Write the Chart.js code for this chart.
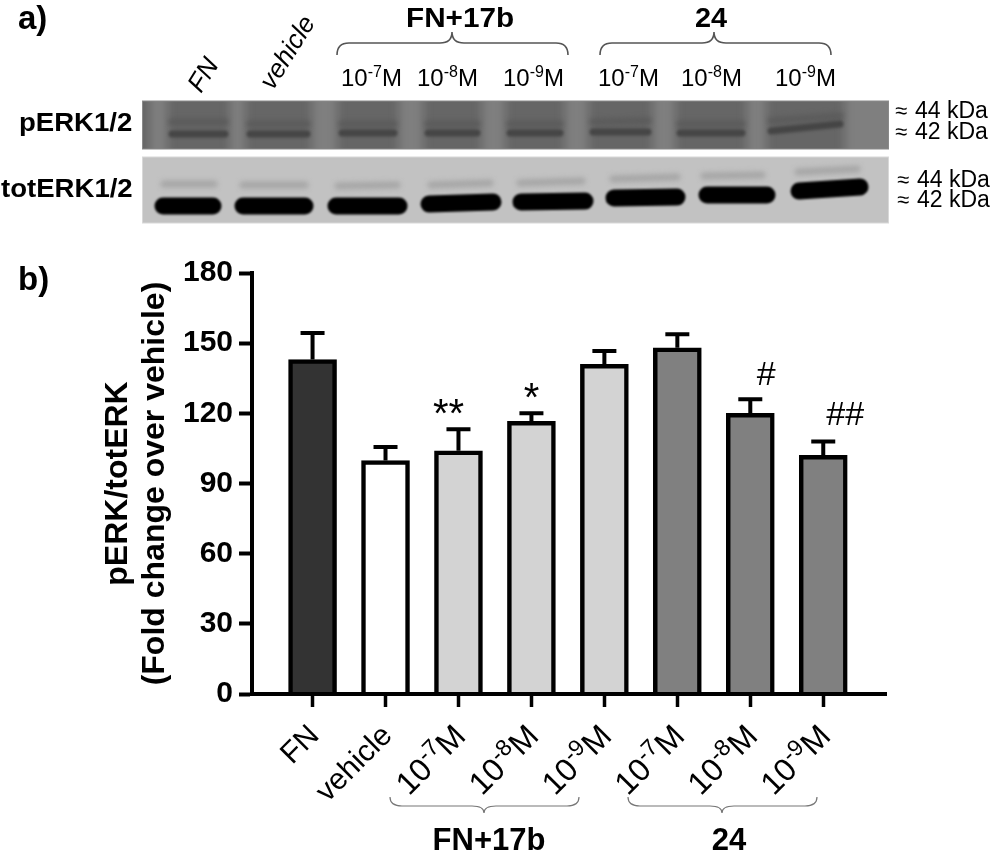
<!DOCTYPE html>
<html>
<head>
<meta charset="utf-8">
<title>pERK/totERK</title>
<style>
    html, body { margin: 0; padding: 0; background: #fff; }
    canvas { display: block; }
</style>
<script src="https://cdn.jsdelivr.net/npm/chart.js@4/dist/chart.umd.min.js"></script>
</head>
<body>
<canvas id="erkChart" width="995" height="852"></canvas>
<script>
// Chart values
const categories = ['FN', 'vehicle', '10^-7^M', '10^-8^M', '10^-9^M', '10^-7^M', '10^-8^M', '10^-9^M'];
const foldChange = [143, 99.8, 104, 116.6, 141, 148, 120, 102];
const errorTop = [154.3, 105.6, 113.2, 120, 146.6, 153.8, 126, 108];
const sigMarks = ['', '', '**', '*', '', '', '#', '##'];
const barColors = ['#333333', '#ffffff', '#d3d3d3', '#d3d3d3', '#d3d3d3', '#808080', '#808080', '#808080'];
const yTicks = [0, 30, 60, 90, 120, 150, 180];

// Panel a labels
const blotConcLabels = ['10^-7^M', '10^-8^M', '10^-9^M', '10^-7^M', '10^-8^M', '10^-9^M'];
const blotConcX = [341, 417, 503, 598, 681, 775];

// Blot lanes: [x1, y1, x2, y2] of each band
const pErkLower = [[172, 134, 225, 134], [250, 134, 307, 134], [342, 133, 394, 133], [428, 133, 477, 133], [510, 133, 560, 133], [593, 132, 648, 132], [680, 133, 742, 133], [771, 131, 840, 124]];
const pErkUpper = [[172, 122, 225, 122], [250, 124, 307, 124], [342, 124, 394, 124], [428, 124, 477, 124], [510, 124, 560, 124], [593, 122, 648, 121], [680, 124, 742, 124], [771, 121, 840, 116]];
const totErkLower = [[163, 206, 213, 206], [243, 206, 305, 206], [336, 206, 399, 206], [429, 204, 493, 202], [521, 202, 585, 201], [614, 198, 677, 197], [707, 195, 767, 195], [799, 191, 860, 187]];
const totErkUpper = [[164, 184, 214, 184], [243, 185, 305, 185], [338, 186, 397, 185], [431, 185, 490, 183], [520, 183, 582, 181], [613, 179, 677, 177], [704, 176, 762, 175], [798, 172, 857, 169]];

const FONT = '"Liberation Sans", Arial, sans-serif';

function drawText(ctx, text, x, y, font, opts = {}) {
    ctx.save();
    ctx.translate(x, y);
    if (opts.rot) ctx.rotate(opts.rot);
    if (opts.sx) ctx.scale(opts.sx, 1);
    ctx.font = font;
    ctx.fillStyle = opts.color || '#000';
    ctx.textAlign = opts.align || 'left';
    ctx.textBaseline = 'alphabetic';
    ctx.fillText(text, 0, 0);
    ctx.restore();
}

// Labels like 10^-7^M have a raised middle part, plain labels go straight through
function drawLabel(ctx, label, x, y, px, rot, alignEnd, supRatio = 0.68) {
    const parts = label.split('^');
    const sup = Math.round(px * supRatio);
    ctx.save();
    ctx.translate(x, y);
    if (rot) ctx.rotate(rot);
    ctx.fillStyle = '#000';
    ctx.textBaseline = 'alphabetic';
    ctx.textAlign = 'left';
    const fontFor = i => (i === 1 ? sup : px) + 'px ' + FONT;
    let total = 0;
    const widths = parts.map((p, i) => {
        ctx.font = fontFor(i);
        const w = ctx.measureText(p).width;
        total += w;
        return w;
    });
    let cx = alignEnd ? -total : 0;
    parts.forEach((p, i) => {
        ctx.font = fontFor(i);
        ctx.fillText(p, cx, i === 1 ? -px * 0.36 : 0);
        cx += widths[i];
    });
    ctx.restore();
}

function drawBrace(ctx, x1, x2, xm, yEdge, yMid, yTip, color, lw) {
    const r = 12;
    ctx.save();
    ctx.strokeStyle = color;
    ctx.lineWidth = lw;
    ctx.beginPath();
    ctx.moveTo(x1, yEdge);
    ctx.quadraticCurveTo(x1, yMid, x1 + r, yMid);
    ctx.lineTo(xm - r, yMid);
    ctx.quadraticCurveTo(xm, yMid, xm, yTip);
    ctx.quadraticCurveTo(xm, yMid, xm + r, yMid);
    ctx.lineTo(x2 - r, yMid);
    ctx.quadraticCurveTo(x2, yMid, x2, yEdge);
    ctx.stroke();
    ctx.restore();
}

function drawBands(ctx, bands, width, color, blur) {
    ctx.save();
    ctx.filter = 'blur(' + blur + 'px)';
    ctx.strokeStyle = color;
    ctx.lineWidth = width;
    ctx.lineCap = 'round';
    bands.forEach(b => {
        ctx.beginPath();
        ctx.moveTo(b[0], b[1]);
        ctx.lineTo(b[2], b[3]);
        ctx.stroke();
    });
    ctx.restore();
}

// Western blot strips of panel a
function drawBlots(ctx) {
    // pERK strip
    ctx.save();
    ctx.beginPath();
    ctx.rect(142, 101, 747, 48);
    ctx.clip();
    ctx.fillStyle = '#7f7f7f';
    ctx.fillRect(142, 101, 747, 48);
    ctx.filter = 'blur(5px)';
    ctx.fillStyle = '#666666';
    pErkLower.forEach(b => ctx.fillRect(b[0] - 5, 92, b[2] - b[0] + 10, 66));
    ctx.fillRect(130, 92, 20, 66);
    ctx.filter = 'none';
    drawBands(ctx, pErkUpper, 7, '#5b5b5b', 2.4);
    drawBands(ctx, pErkLower, 7, '#454545', 1.8);
    ctx.restore();
    ctx.strokeStyle = '#8a8a8a';
    ctx.lineWidth = 1;
    ctx.strokeRect(142.5, 101, 746, 48);

    // totERK strip
    ctx.save();
    ctx.beginPath();
    ctx.rect(142, 157, 747, 66);
    ctx.clip();
    ctx.fillStyle = '#c2c2c2';
    ctx.fillRect(142, 157, 747, 66);
    drawBands(ctx, totErkUpper, 7, '#a6a6a6', 2.4);
    drawBands(ctx, totErkLower, 17, '#000000', 1.3);
    ctx.restore();
    ctx.strokeStyle = '#d8d8d8';
    ctx.strokeRect(142.5, 157, 746, 66);
}

function drawPanelA(ctx) {
    drawText(ctx, 'a)', 18, 29, 'bold 33px ' + FONT);
    drawText(ctx, 'b)', 18, 290, 'bold 33px ' + FONT);

    drawBlots(ctx);

    drawText(ctx, 'FN', 201, 94, 'italic 26px ' + FONT, { rot: -58 * Math.PI / 180 });
    drawText(ctx, 'vehicle', 273, 91, 'italic 26px ' + FONT, { rot: -58 * Math.PI / 180 });

    drawText(ctx, 'FN+17b', 406, 27, 'bold 27px ' + FONT, { sx: 1.1 });
    drawText(ctx, '24', 695, 27, 'bold 27px ' + FONT, { sx: 1.07 });
    drawBrace(ctx, 337, 568, 452, 55, 43, 32, '#555', 1.6);
    drawBrace(ctx, 600, 831, 714, 55, 43, 32, '#555', 1.6);

    blotConcLabels.forEach((label, i) => drawLabel(ctx, label, blotConcX[i], 86, 24, 0, false));

    drawText(ctx, 'pERK1/2', 19, 131, 'bold 26px ' + FONT, { sx: 1.06 });
    drawText(ctx, 'totERK1/2', 1, 197, 'bold 26px ' + FONT, { sx: 1.06 });

    [[895, 118], [895, 139], [897, 187], [897, 207]].forEach((pos, i) => {
        drawText(ctx, '\u2248', pos[0], pos[1], '22px ' + FONT);
        drawText(ctx, i % 2 ? '42 kDa' : '44 kDa', pos[0] + 20, pos[1], '23px ' + FONT);
    });
}

const panelPlugin = {
    id: 'panelPlugin',
    beforeDraw(chart) {
        drawPanelA(chart.ctx);
    },
    // Error bars go under the bars, only the part above the bar top stays visible
    beforeDatasetsDraw(chart) {
        const ctx = chart.ctx;
        const x = chart.scales.x;
        const y = chart.scales.y;
        ctx.save();
        ctx.strokeStyle = '#000';
        ctx.lineWidth = 4;
        errorTop.forEach((top, i) => {
            const px = x.getPixelForValue(i);
            const py = y.getPixelForValue(top);
            ctx.beginPath();
            ctx.moveTo(px, y.getPixelForValue(foldChange[i]));
            ctx.lineTo(px, py);
            ctx.moveTo(px - 12, py);
            ctx.lineTo(px + 12, py);
            ctx.stroke();
        });
        ctx.restore();
    },
    afterDraw(chart) {
        const ctx = chart.ctx;
        const x = chart.scales.x;
        const y = chart.scales.y;

        // x tick labels, rotated, ending under their ticks
        categories.forEach((label, i) => {
            const isConc = label.includes('^');
            drawLabel(ctx, label, x.getPixelForValue(i) + (isConc ? 9 : 8), isConc ? 738 : 737,
                isConc ? 32 : 30, -Math.PI / 4, true, 0.72);
        });

        // significance marks
        sigMarks.forEach((mark, i) => {
            if (!mark) return;
            const offsets = { '**': [-10, -2], '*': [0, -2], '#': [16, -14], '##': [22, -16] };
            const star = mark.includes('*');
            drawText(ctx, mark, x.getPixelForValue(i) + offsets[mark][0], y.getPixelForValue(errorTop[i]) + offsets[mark][1],
                (star ? 40 : 34) + 'px ' + FONT, { align: 'center' });
        });

        drawBrace(ctx, 390, 579, 484, 797, 806, 813, '#777', 1.2);
        drawBrace(ctx, 628, 817, 722, 797, 806, 813, '#777', 1.2);
        drawText(ctx, 'FN+17b', 489, 850, 'bold 31px ' + FONT, { align: 'center' });
        drawText(ctx, '24', 729, 850, 'bold 31px ' + FONT, { align: 'center' });
    }
};

new Chart(document.getElementById('erkChart').getContext('2d'), {
    type: 'bar',
    data: {
        datasets: [{
            label: 'pERK/totERK',
            data: foldChange.map((v, i) => ({ x: i, y: v })),
            backgroundColor: barColors,
            borderColor: '#000',
            borderWidth: 4.5,
            barThickness: 48
        }]
    },
    options: {
        responsive: false,
        animation: false,
        events: [],
        layout: { padding: { left: 99.5, top: 273, right: 109, bottom: 0 } },
        plugins: { legend: { display: false }, tooltip: { enabled: false } },
        scales: {
            x: {
                type: 'linear',
                offset: false,
                min: -0.83,
                max: 7.86,
                afterBuildTicks: scale => {
                    scale.ticks = categories.map((_, i) => ({ value: i }));
                },
                afterFit: scale => { scale.height = 158; },
                ticks: { display: false },
                grid: { offset: false, drawOnChartArea: false, drawTicks: true, tickLength: 13, tickWidth: 3.5, tickColor: '#000', z: 1 },
                border: { display: true, color: '#000', width: 4, z: 1 }
            },
            y: {
                min: 0,
                max: 180,
                afterBuildTicks: scale => {
                    scale.ticks = yTicks.map(v => ({ value: v }));
                },
                afterFit: scale => { scale.width = 152.5; },
                ticks: {
                    color: '#000',
                    padding: 6,
                    font: { family: FONT, size: 30, weight: 'bold' }
                },
                grid: { drawOnChartArea: false, tickLength: 13, tickWidth: 4, tickColor: '#000' },
                border: { display: true, color: '#000', width: 4 },
                title: {
                    display: true,
                    text: ['pERK/totERK', '(Fold change over vehicle)'],
                    color: '#000',
                    padding: 0,
                    font: { family: FONT, size: 32, weight: 'bold', lineHeight: 1.16 }
                }
            }
        }
    },
    plugins: [panelPlugin]
});
</script>
</body>
</html>
